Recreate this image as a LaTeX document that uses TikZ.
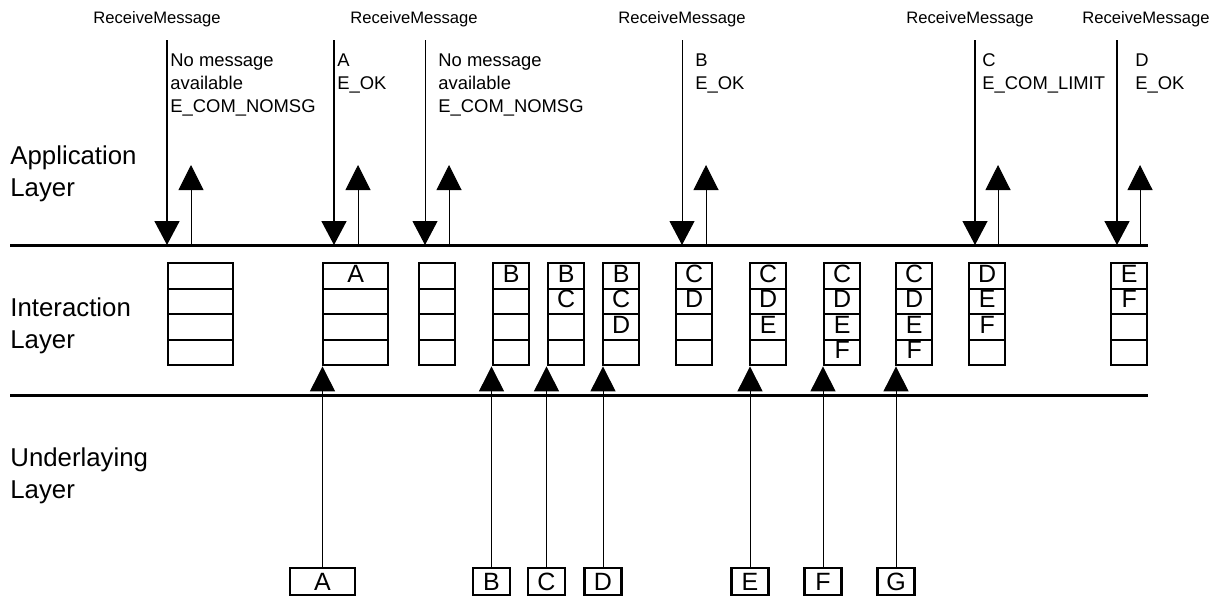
\documentclass[tikz,border=0pt]{standalone}
\usepackage{fontspec}
\setmainfont{Liberation Sans}
\usetikzlibrary{arrows.meta,shapes.multipart}
\newcommand{\qs}{\rule[-2.75pt]{0pt}{11.55pt}}

\begin{document}
\begin{tikzpicture}[x=0.5pt,y=-0.5pt,
  layer/.style={anchor=north west,inner sep=0pt,align=left,
    font=\fontsize{12.9}{16}\selectfont},
  call/.style={anchor=base,inner sep=0pt,font=\fontsize{8.3}{10}\selectfont},
  ret/.style={anchor=north west,inner sep=0pt,align=left,
    font=\fontsize{9.2}{11.5}\selectfont},
  bus/.style={line width=1.5pt},
  get/.style={-{Triangle[length=12pt,width=12.5pt]},line width=0.8pt},
  put/.style={-{Triangle[length=12.5pt,width=12.5pt]},line width=0.5pt},
  queue/.style={rectangle split,rectangle split parts=4,draw,line width=1.2pt,
    inner xsep=0pt,inner ysep=0pt,
    rectangle split empty part height=8.8pt,rectangle split empty part depth=2.75pt,
    anchor=north west,minimum width=18pt,font=\fontsize{12.5}{14}\selectfont},
  wide/.style={queue,minimum width=32.5pt},
  msg/.style={draw,line width=1.2pt,inner sep=0pt,minimum height=13.5pt,
    minimum width=18.5pt,font=\fontsize{12.5}{14}\selectfont}]
  \useasboundingbox (0,0) rectangle (1230,600);
  % layers
  \node[layer] (app) at (10,145) {Application\\Layer};
  \node[layer] (inter) at (10,297) {Interaction\\Layer};
  \node[layer] (under) at (10,447) {Underlaying\\Layer};
  \coordinate (appL) at (10,245);
  \coordinate (appR) at (1148,245);
  \coordinate (lowL) at (10,395);
  \coordinate (lowR) at (1148,395);
  \draw[bus] (appL) -- (appR);
  \draw[bus] (lowL) -- (lowR);
  % calls from the application
  \node[call] (call1) at (157,23) {ReceiveMessage};
  \node[call] (call2) at (414,23) {ReceiveMessage};
  \node[call] (call3) at (682,23) {ReceiveMessage};
  \node[call] (call4) at (970,23) {ReceiveMessage};
  \node[call] (call5) at (1146,23) {ReceiveMessage};
  \coordinate (r1) at (167,40);
  \coordinate (r2) at (334,40);
  \coordinate (r3) at (425,40);
  \coordinate (r4) at (682,40);
  \coordinate (r5) at (975,40);
  \coordinate (r6) at (1117,40);
  \draw[get] (r1) -- (r1 |- appL);
  \draw[get] (r2) -- (r2 |- appL);
  \draw[get,line width=0.5pt] (r3) -- (r3 |- appL);
  \draw[get,line width=0.5pt] (r4) -- (r4 |- appL);
  \draw[get,line width=0.6pt] (r5) -- (r5 |- appL);
  \draw[get] (r6) -- (r6 |- appL);
  \coordinate (s1) at (191,165);
  \coordinate (s2) at (358,165);
  \coordinate (s3) at (449,165);
  \coordinate (s4) at (706,165);
  \coordinate (s5) at (998,165);
  \coordinate (s6) at (1140,165);
  \draw[put] (s1 |- appL) -- (s1);
  \draw[put] (s2 |- appL) -- (s2);
  \draw[put] (s3 |- appL) -- (s3);
  \draw[put] (s4 |- appL) -- (s4);
  \draw[put] (s5 |- appL) -- (s5);
  \draw[put] (s6 |- appL) -- (s6);
  \node[ret] (ret1) at (170,53) {No message\\available\\E\_COM\_NOMSG};
  \node[ret] (ret2) at (337,53) {A\\E\_OK};
  \node[ret] (ret3) at (438,53) {No message\\available\\E\_COM\_NOMSG};
  \node[ret] (ret4) at (695,53) {B\\E\_OK};
  \node[ret] (ret5) at (982,53) {C\\E\_COM\_LIMIT};
  \node[ret] (ret6) at (1135,53) {D\\E\_OK};
  % queue states
  \node[wide] (q1) at (167,262) {\qs\nodepart{two}\qs\nodepart{three}\qs\nodepart{four}\qs};
  \node[wide] (q2) at (322,262) {\qs A\nodepart{two}\qs\nodepart{three}\qs\nodepart{four}\qs};
  \node[queue] (q3) at (418,262) {\qs\nodepart{two}\qs\nodepart{three}\qs\nodepart{four}\qs};
  \node[queue] (q4) at (492,262) {\qs B\nodepart{two}\qs\nodepart{three}\qs\nodepart{four}\qs};
  \node[queue] (q5) at (547,262) {\qs B\nodepart{two}\qs C\nodepart{three}\qs\nodepart{four}\qs};
  \node[queue] (q6) at (602,262) {\qs B\nodepart{two}\qs C\nodepart{three}\qs D\nodepart{four}\qs};
  \node[queue] (q7) at (675,262) {\qs C\nodepart{two}\qs D\nodepart{three}\qs\nodepart{four}\qs};
  \node[queue] (q8) at (749,262) {\qs C\nodepart{two}\qs D\nodepart{three}\qs E\nodepart{four}\qs};
  \node[queue] (q9) at (823,262) {\qs C\nodepart{two}\qs D\nodepart{three}\qs E\nodepart{four}\qs F};
  \node[queue] (q10) at (895,262) {\qs C\nodepart{two}\qs D\nodepart{three}\qs E\nodepart{four}\qs F};
  \node[queue] (q11) at (968,262) {\qs D\nodepart{two}\qs E\nodepart{three}\qs F\nodepart{four}\qs};
  \node[queue] (q12) at (1110,262) {\qs E\nodepart{two}\qs F\nodepart{three}\qs\nodepart{four}\qs};
  % messages from the underlaying layer
  \node[msg,minimum width=32.5pt] (mA) at (322.5,581.5) {A};
  \node[msg] (mB) at (491.5,581.5) {B};
  \node[msg] (mC) at (546.5,581.5) {C};
  \node[msg] (mD) at (603,581.5) {D};
  \node[msg] (mE) at (750,581.5) {E};
  \node[msg] (mF) at (823,581.5) {F};
  \node[msg] (mG) at (896,581.5) {G};
  \draw[put] (mA.north) -- (mA.north |- q2.south);
  \draw[put] (mB.north) -- (mB.north |- q4.south);
  \draw[put] (mC.north) -- (mC.north |- q5.south);
  \draw[put] (mD.north) -- (mD.north |- q6.south);
  \draw[put] (mE.north) -- (mE.north |- q8.south);
  \draw[put] (mF.north) -- (mF.north |- q9.south);
  \draw[put] (mG.north) -- (mG.north |- q10.south);
\end{tikzpicture}
\end{document}
